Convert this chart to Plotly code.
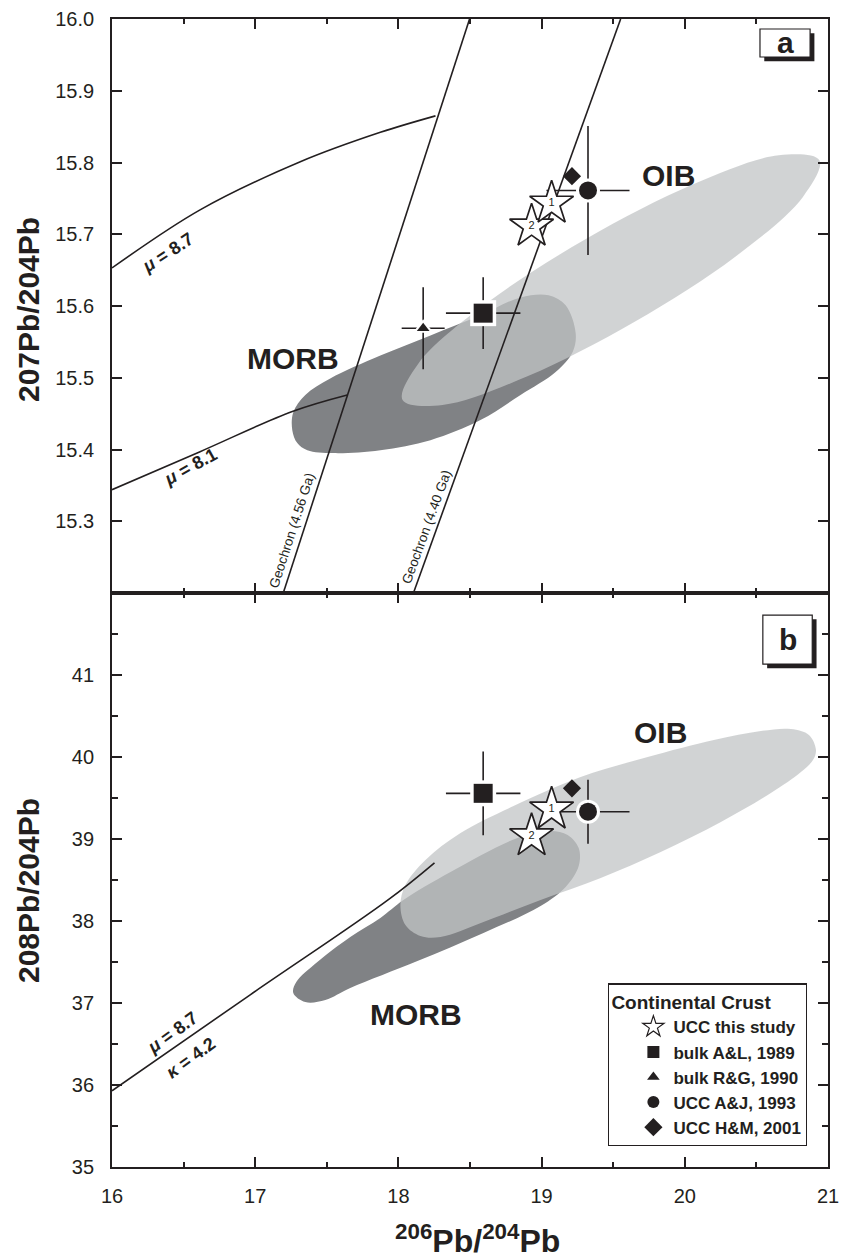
import plotly.graph_objects as go

# ---------------- data ----------------
# field outlines (206Pb/204Pb, 207Pb/204Pb) panel a
oib_a_x = [20.94, 20.825, 20.355, 19.650, 18.901, 18.308, 18.029, 18.140, 18.610, 19.315, 20.063, 20.657, 20.94]
oib_a_y = [15.803, 15.752, 15.669, 15.578, 15.502, 15.462, 15.469, 15.520, 15.603, 15.694, 15.770, 15.810, 15.803]
morb_a_x = [17.259, 17.294, 17.364, 17.545, 17.874, 18.224, 18.573, 18.853, 19.098, 19.217, 19.238, 19.168,
            19.049, 18.853, 18.573, 18.224, 17.874, 17.524, 17.350, 17.266, 17.259]
morb_a_y = [15.427, 15.409, 15.399, 15.395, 15.399, 15.413, 15.441, 15.476, 15.508, 15.536, 15.562, 15.601,
            15.615, 15.612, 15.587, 15.559, 15.531, 15.499, 15.476, 15.452, 15.427]
# field outlines panel b (206Pb/204Pb, 208Pb/204Pb)
oib_b_x = [20.916, 20.867, 20.741, 20.531, 20.203, 19.741, 19.273, 18.804, 18.434, 18.189, 18.049, 18.014,
           18.049, 18.154, 18.294, 18.594, 18.993, 19.413, 19.832, 20.252, 20.601, 20.811, 20.895, 20.916]
oib_b_y = [40.085, 40.268, 40.341, 40.317, 40.207, 40.000, 39.756, 39.402, 39.073, 38.744, 38.439, 38.195,
           37.951, 37.817, 37.805, 37.988, 38.256, 38.524, 38.841, 39.207, 39.561, 39.817, 39.963, 40.085]
morb_b_x = [17.266, 17.350, 17.490, 17.664, 18.133, 18.594, 18.993, 19.168, 19.259, 19.259, 19.182, 19.063,
            18.832, 18.364, 18.035, 17.874, 17.664, 17.434, 17.287, 17.266]
morb_b_y = [37.122, 37.012, 37.037, 37.183, 37.512, 37.854, 38.183, 38.415, 38.671, 38.890, 39.049, 39.098,
            39.012, 38.598, 38.256, 38.037, 37.805, 37.500, 37.256, 37.122]

# growth curves and geochrons
mu87_a_x = [16.0, 16.615, 17.315, 17.874, 18.259]
mu87_a_y = [15.653, 15.734, 15.801, 15.842, 15.865]
mu81_a_x = [16.0, 16.615, 17.259, 17.643]
mu81_a_y = [15.344, 15.397, 15.453, 15.476]
geo456_x = [17.196, 18.497]
geo456_y = [15.2, 16.0]
geo440_x = [18.105, 19.552]
geo440_y = [15.2, 16.0]
mu87_b_x = [16.0, 16.965, 17.93, 18.252]
mu87_b_y = [35.93, 37.10, 38.26, 38.71]

# crust estimates
ucc_x = [19.07, 18.93]
ucc_a_y = [15.743, 15.711]
ucc_b_y = [39.362, 39.037]
ucc_lbl = ["1", "2"]

al89_x, al89_xerr = [18.592], [0.26]
al89_a_y, al89_a_yerr = [15.590], [0.05]
al89_b_y, al89_b_yerr = [39.557], [0.51]

rg90_x, rg90_xerr = [18.173], [0.15]
rg90_a_y, rg90_a_yerr = [15.569], [0.057]

aj93_x, aj93_xerr = [19.324], [0.29]
aj93_a_y, aj93_a_yerr = [15.761], [0.09]
aj93_b_y, aj93_b_yerr = [39.333], [0.39]

hm01_x = [19.212]
hm01_a_y = [15.781]
hm01_b_y = [39.618]

x_ticks = [16, 17, 18, 19, 20, 21]
ya_ticks = [15.3, 15.4, 15.5, 15.6, 15.7, 15.8, 15.9, 16.0]
yb_ticks = [35, 36, 37, 38, 39, 40, 41]

legend_names = ["UCC this study", "bulk A&amp;L, 1989", "bulk R&amp;G, 1990", "UCC A&amp;J, 1993", "UCC H&amp;M, 2001"]

# ---------------- styles ----------------
INK = "#231f20"
MORB_C = "#808285"
OIB_C = "rgba(194,196,197,0.75)"
FONT = "Liberation Sans"

fig = go.Figure()


def field(x, y, color, xa, ya):
    fig.add_trace(go.Scatter(x=x, y=y, mode="lines", fill="toself", fillcolor=color,
                             line=dict(width=0, shape="spline", smoothing=1.0, color=color),
                             hoverinfo="skip", showlegend=False, xaxis=xa, yaxis=ya))


def curve(x, y, xa, ya):
    fig.add_trace(go.Scatter(x=x, y=y, mode="lines", line=dict(color=INK, width=1.6, shape="spline"),
                             hoverinfo="skip", showlegend=False, xaxis=xa, yaxis=ya))


def errpoint(x, y, xerr, yerr, symbol, size, halo, xa, ya):
    fig.add_trace(go.Scatter(
        x=x, y=y, mode="markers", showlegend=False, xaxis=xa, yaxis=ya,
        marker=dict(symbol=symbol, size=halo, color="white", line=dict(width=0)),
        error_x=dict(type="data", array=xerr, visible=True, width=0, thickness=1.6, color=INK),
        error_y=dict(type="data", array=yerr, visible=True, width=0, thickness=1.6, color=INK)))
    fig.add_trace(go.Scatter(x=x, y=y, mode="markers", showlegend=False, xaxis=xa, yaxis=ya,
                             marker=dict(symbol=symbol, size=size, color=INK, line=dict(width=0))))


def stars(y, xa, ya):
    fig.add_trace(go.Scatter(
        x=ucc_x[::-1], y=y[::-1], mode="markers+text", text=ucc_lbl[::-1], textposition="middle center",
        textfont=dict(family=FONT, size=11, color=INK), showlegend=False, xaxis=xa, yaxis=ya,
        marker=dict(symbol="star", size=33, color="white", line=dict(color=INK, width=1.7))))


# ---- panel a ----
field(morb_a_x, morb_a_y, MORB_C, "x", "y")
field(oib_a_x, oib_a_y, OIB_C, "x", "y")
curve(mu87_a_x, mu87_a_y, "x", "y")
curve(mu81_a_x, mu81_a_y, "x", "y")
curve(geo456_x, geo456_y, "x", "y")
curve(geo440_x, geo440_y, "x", "y")
errpoint(rg90_x, rg90_a_y, rg90_xerr, rg90_a_yerr, "triangle-up", 11, 18, "x", "y")
errpoint(al89_x, al89_a_y, al89_xerr, al89_a_yerr, "square", 19, 26, "x", "y")
errpoint(aj93_x, aj93_a_y, aj93_xerr, aj93_a_yerr, "circle", 18, 24, "x", "y")
fig.add_trace(go.Scatter(x=hm01_x, y=hm01_a_y, mode="markers", showlegend=False, xaxis="x", yaxis="y",
                         marker=dict(symbol="diamond", size=14, color=INK)))
stars(ucc_a_y, "x", "y")

# ---- panel b ----
field(morb_b_x, morb_b_y, MORB_C, "x2", "y2")
field(oib_b_x, oib_b_y, OIB_C, "x2", "y2")
curve(mu87_b_x, mu87_b_y, "x2", "y2")
errpoint(al89_x, al89_b_y, al89_xerr, al89_b_yerr, "square", 19, 26, "x2", "y2")
errpoint(aj93_x, aj93_b_y, aj93_xerr, aj93_b_yerr, "circle", 18, 24, "x2", "y2")
fig.add_trace(go.Scatter(x=hm01_x, y=hm01_b_y, mode="markers", showlegend=False, xaxis="x2", yaxis="y2",
                         marker=dict(symbol="diamond", size=14, color=INK)))
stars(ucc_b_y, "x2", "y2")

# ---- legend-only entries ----
leg_styles = [
    dict(symbol="star", size=16, color="white", line=dict(color=INK, width=1.2)),
    dict(symbol="square", size=12, color=INK),
    dict(symbol="triangle-up", size=11, color=INK),
    dict(symbol="circle", size=12, color=INK),
    dict(symbol="diamond", size=14, color=INK),
]
for i, (nm, st) in enumerate(zip(legend_names, leg_styles)):
    fig.add_trace(go.Scatter(x=[None], y=[None], mode="markers", name=nm, marker=st,
                             legendgroup=f"g{i}", showlegend=True, xaxis="x2", yaxis="y2"))

# ---------------- axes ----------------
def xaxis_cfg(anchor, labels):
    return dict(range=[16, 21], domain=[0, 1], anchor=anchor, showline=True, linecolor=INK, linewidth=1.8,
                mirror="ticks", ticks="inside", ticklen=10, tickwidth=1.6, tickcolor=INK,
                tickvals=x_ticks, showticklabels=labels, ticklabelstandoff=10, automargin=False,
                tickfont=dict(family=FONT, size=20, color=INK),
                minor=dict(dtick=0.5, tick0=16, ticks="inside", ticklen=5, tickwidth=1.6, tickcolor=INK),
                showgrid=False, zeroline=False)


fig.update_layout(
    width=843, height=1259,
    margin=dict(l=112, r=15, t=19, b=92),
    paper_bgcolor="white", plot_bgcolor="white",
    xaxis=xaxis_cfg("y", False),
    xaxis2=xaxis_cfg("y2", True),
    yaxis=dict(domain=[0.5, 1], range=[15.2, 16.0], anchor="x", showline=True, linecolor=INK, linewidth=1.8,
               mirror="ticks", ticks="inside", ticklen=10, tickwidth=1.6, tickcolor=INK, automargin=False,
               tickvals=ya_ticks, tickformat=".1f", ticklabelstandoff=12,
               tickfont=dict(family=FONT, size=20, color=INK), showgrid=False, zeroline=False),
    yaxis2=dict(domain=[0, 0.5], range=[35, 42], anchor="x2", showline=True, linecolor=INK, linewidth=1.8,
                mirror="ticks", ticks="inside", ticklen=10, tickwidth=1.6, tickcolor=INK, automargin=False,
                tickvals=yb_ticks, ticklabelstandoff=12,
                minor=dict(dtick=0.5, tick0=35, ticks="inside", ticklen=6, tickwidth=1.6, tickcolor=INK),
                tickfont=dict(family=FONT, size=20, color=INK), showgrid=False, zeroline=False),
    legend=dict(x=0.693, y=0.018, xanchor="left", yanchor="bottom", bgcolor="white",
                bordercolor=INK, borderwidth=1.2, tracegroupgap=0, indentation=24,
                font=dict(family=FONT, size=17, color=INK, weight="bold"),
                title=dict(text="Continental Crust", font=dict(family=FONT, size=19, color=INK, weight="bold"))),
)

# ---------------- panel label boxes (paper coords) ----------------
for (x0, x1, y0, y1) in [(0.905, 0.975, 0.9669, 0.9913), (0.909, 0.978, 0.4381, 0.4808)]:
    fig.add_shape(type="rect", xref="paper", yref="paper", x0=x0 + 0.006, x1=x1 + 0.006,
                  y0=y0 - 0.0037, y1=y1 - 0.0037, fillcolor=INK, line=dict(width=0))
    fig.add_shape(type="rect", xref="paper", yref="paper", x0=x0, x1=x1, y0=y0, y1=y1,
                  fillcolor="white", line=dict(color=INK, width=1.2))

ann = []
ann.append(dict(text="a", xref="paper", yref="paper", x=0.94, y=0.9791, xanchor="center", yanchor="middle",
                showarrow=False, font=dict(family=FONT, size=30, color=INK, weight="bold")))
ann.append(dict(text="b", xref="paper", yref="paper", x=0.9435, y=0.4595, xanchor="center", yanchor="middle",
                showarrow=False, font=dict(family=FONT, size=30, color=INK, weight="bold")))

big = dict(family=FONT, size=30, color=INK, weight="bold")
ann += [
    dict(text="OIB", x=19.888, y=15.782, xref="x", yref="y", showarrow=False, font=big),
    dict(text="MORB", x=17.266, y=15.527, xref="x", yref="y", showarrow=False, font=big),
    dict(text="OIB", x=19.832, y=40.293, xref="x2", yref="y2", showarrow=False, font=big),
    dict(text="MORB", x=18.124, y=36.854, xref="x2", yref="y2", showarrow=False, font=big),
]
mu_font = dict(family=FONT, size=18, color=INK, weight="bold")
ann += [
    dict(text="<i>μ</i> = 8.7", x=16.385, y=15.674, xref="x", yref="y", showarrow=False, textangle=-33, font=mu_font),
    dict(text="<i>μ</i> = 8.1", x=16.545, y=15.375, xref="x", yref="y", showarrow=False, textangle=-29, font=mu_font),
    dict(text="<i>μ</i> = 8.7", x=16.42, y=36.63, xref="x2", yref="y2", showarrow=False, textangle=-36, font=mu_font),
    dict(text="<i>κ</i> = 4.2", x=16.55, y=36.33, xref="x2", yref="y2", showarrow=False, textangle=-36, font=mu_font),
]
geo_font = dict(family=FONT, size=13.5, color=INK)
ann += [
    dict(text="Geochron (4.56 Ga)", x=17.257, y=15.287, xref="x", yref="y", showarrow=False, textangle=-72, font=geo_font),
    dict(text="Geochron (4.40 Ga)", x=18.20, y=15.292, xref="x", yref="y", showarrow=False, textangle=-70, font=geo_font),
]
ytitle_font = dict(family=FONT, size=30, color=INK, weight="bold")
xtitle_font = dict(family=FONT, size=32, color=INK, weight="bold")
ann += [
    dict(text="207Pb/204Pb", xref="paper", yref="paper", x=-0.1173, y=0.7465, textangle=-90, showarrow=False,
         xanchor="center", yanchor="middle", font=ytitle_font),
    dict(text="208Pb/204Pb", xref="paper", yref="paper", x=-0.1173, y=0.2404, textangle=-90, showarrow=False,
         xanchor="center", yanchor="middle", font=ytitle_font),
    dict(text="<sup>206</sup>Pb/<sup>204</sup>Pb", xref="paper", yref="paper", x=0.51, y=-0.0625, showarrow=False,
         xanchor="center", yanchor="middle", font=xtitle_font),
]
fig.update_layout(annotations=ann)

fig.write_html("out.html", config={"displayModeBar": False},
               post_script="document.body.style.margin='0';document.body.style.padding='0';")
